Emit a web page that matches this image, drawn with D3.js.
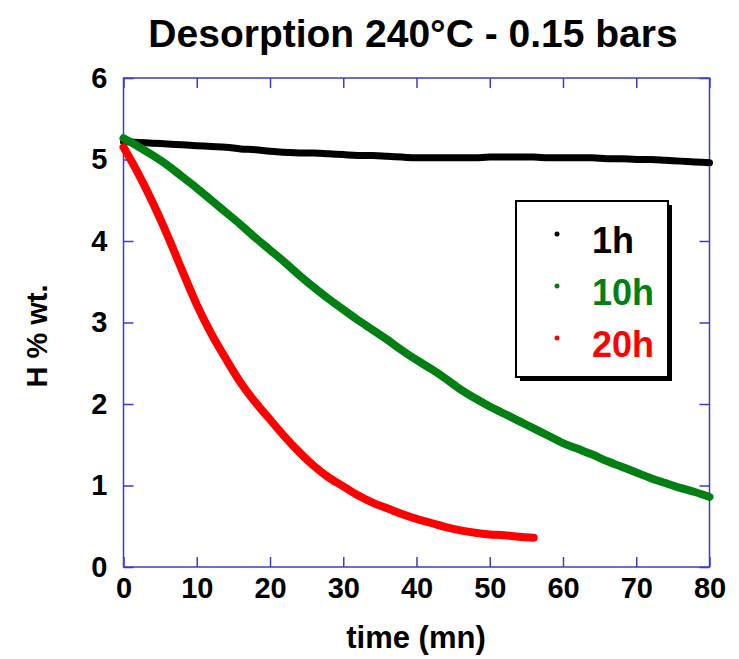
<!DOCTYPE html>
<html lang="en">
<head>
    <meta charset="UTF-8">
    <title>Desorption 240°C - 0.15 bars</title>
    <script src="https://d3js.org/d3.v7.min.js"></script>
    <style>
        body { margin: 0; background: white; }
        text { font-family: "Liberation Sans", Arial, sans-serif; font-weight: bold; }
    </style>
</head>
<body>
    <svg width="739" height="659"></svg>
    <script>
        // time (mn) for each series
        const times1h = [0, 2, 4, 6, 8, 10, 12, 14, 16, 18, 20, 22, 24, 26, 28, 30, 32, 34, 36, 38, 40,
                         42, 44, 46, 48, 50, 52, 54, 56, 58, 60, 62, 64, 66, 68, 70, 72, 74, 76, 78, 80];
        const values1h = [5.22, 5.21, 5.20, 5.19, 5.18, 5.17, 5.16, 5.15, 5.13, 5.12, 5.10, 5.09, 5.08, 5.08,
                          5.07, 5.06, 5.05, 5.05, 5.04, 5.03, 5.02, 5.02, 5.02, 5.02, 5.02, 5.03, 5.03, 5.03,
                          5.03, 5.02, 5.02, 5.02, 5.02, 5.01, 5.01, 5.00, 5.00, 4.99, 4.98, 4.97, 4.96];

        const times10h = times1h;
        const values10h = [5.26, 5.16, 5.05, 4.93, 4.79, 4.65, 4.50, 4.35, 4.20, 4.04, 3.89, 3.74, 3.58, 3.43,
                           3.29, 3.16, 3.03, 2.91, 2.79, 2.66, 2.54, 2.43, 2.31, 2.18, 2.07, 1.97, 1.88, 1.79,
                           1.70, 1.61, 1.52, 1.45, 1.38, 1.30, 1.23, 1.16, 1.09, 1.03, 0.97, 0.92, 0.86];

        const times20h = [0, 2, 4, 6, 8, 10, 12, 14, 16, 18, 20, 22, 24, 26, 28, 30, 32, 34, 36, 38, 40,
                          42, 44, 46, 48, 50, 52, 54, 56];
        const values20h = [5.15, 4.83, 4.47, 4.07, 3.64, 3.22, 2.86, 2.55, 2.26, 2.02, 1.81, 1.60, 1.41, 1.24,
                           1.10, 0.99, 0.88, 0.79, 0.72, 0.65, 0.59, 0.54, 0.49, 0.45, 0.42, 0.40, 0.39, 0.37, 0.36];

        const seriesNames = ['1h', '10h', '20h'];
        const seriesColors = ['#000000', '#008012', '#ff0000'];
        const xTicks = [0, 10, 20, 30, 40, 50, 60, 70, 80];
        const yTicks = [0, 1, 2, 3, 4, 5, 6];

        const series = [
            { name: seriesNames[0], color: seriesColors[0], width: 7, pts: times1h.map((t, i) => [t, values1h[i]]) },
            { name: seriesNames[1], color: seriesColors[1], width: 8, pts: times10h.map((t, i) => [t, values10h[i]]) },
            { name: seriesNames[2], color: seriesColors[2], width: 8, pts: times20h.map((t, i) => [t, values20h[i]]) }
        ];

        const plotLeft = 123.5, plotRight = 709.5, plotTop = 78, plotBottom = 567;
        const axisColor = '#3a3ad6';

        const svg = d3.select('svg');

        const x = d3.scaleLinear().domain([0, 80]).range([plotLeft, plotRight]);
        const y = d3.scaleLinear().domain([0, 6]).range([plotBottom, plotTop]);

        // title
        svg.append('text')
            .attr('x', 413)
            .attr('y', 47)
            .attr('text-anchor', 'middle')
            .style('font-size', '39px')
            .text('Desorption 240°C - 0.15 bars');

        // axes, ticks pointing inward on all four sides
        function styleAxis(g) {
            g.select('.domain').remove();
            g.selectAll('.tick line').attr('stroke', axisColor).attr('stroke-width', 1.5);
            g.selectAll('.tick text').attr('fill', 'black').style('font-size', '29px')
                .style('font-family', '"Liberation Sans", Arial, sans-serif').style('font-weight', 'bold');
        }

        svg.append('g')
            .attr('transform', `translate(0, ${plotBottom})`)
            .call(d3.axisBottom(x).tickValues(xTicks).tickFormat(d3.format('d'))
                .tickSizeInner(-10).tickSizeOuter(0).tickPadding(10))
            .call(styleAxis);

        svg.append('g')
            .attr('transform', `translate(${plotLeft}, 0)`)
            .call(d3.axisLeft(y).tickValues(yTicks).tickFormat(d3.format('d'))
                .tickSizeInner(-10).tickSizeOuter(0).tickPadding(16))
            .call(styleAxis);

        svg.append('g')
            .attr('transform', `translate(0, ${plotTop})`)
            .call(d3.axisTop(x).tickValues(xTicks).tickSizeInner(-10).tickSizeOuter(0).tickFormat(''))
            .call(styleAxis);

        svg.append('g')
            .attr('transform', `translate(${plotRight}, 0)`)
            .call(d3.axisRight(y).tickValues(yTicks).tickSizeInner(-10).tickSizeOuter(0).tickFormat(''))
            .call(styleAxis);

        svg.append('rect')
            .attr('x', plotLeft).attr('y', plotTop)
            .attr('width', plotRight - plotLeft).attr('height', plotBottom - plotTop)
            .attr('fill', 'none')
            .attr('stroke', axisColor)
            .attr('stroke-width', 1.5);

        // axis titles
        svg.append('text')
            .attr('x', 416)
            .attr('y', 648)
            .attr('text-anchor', 'middle')
            .style('font-size', '31px')
            .text('time (mn)');

        svg.append('text')
            .attr('transform', 'translate(47, 336) rotate(-90)')
            .attr('text-anchor', 'middle')
            .style('font-size', '29px')
            .text('H % wt.');

        // data curves (dense scatter drawn as thick line)
        const line = d3.line().x(d => x(d[0])).y(d => y(d[1])).curve(d3.curveMonotoneX);

        svg.append('g')
            .selectAll('path')
            .data(series)
            .enter().append('path')
            .attr('d', d => line(d.pts))
            .attr('fill', 'none')
            .attr('stroke', d => d.color)
            .attr('stroke-width', d => d.width)
            .attr('stroke-linecap', 'round')
            .attr('stroke-linejoin', 'round');

        // legend
        const legend = svg.append('g').attr('transform', 'translate(516, 201)');
        legend.append('rect')
            .attr('x', 4).attr('y', 4)
            .attr('width', 152).attr('height', 176)
            .attr('fill', 'black');
        legend.append('rect')
            .attr('x', 0).attr('y', 0)
            .attr('width', 152).attr('height', 176)
            .attr('fill', 'white')
            .attr('stroke', 'black')
            .attr('stroke-width', 2);

        legend.selectAll('circle')
            .data(series)
            .enter().append('circle')
            .attr('cx', 41)
            .attr('cy', (d, i) => 33 + i * 52)
            .attr('r', 2.5)
            .attr('fill', d => d.color);

        legend.selectAll('text')
            .data(series)
            .enter().append('text')
            .attr('x', 76)
            .attr('y', (d, i) => 52 + i * 52)
            .attr('fill', d => d.color)
            .style('font-size', '36px')
            .text(d => d.name);
    </script>
</body>
</html>
